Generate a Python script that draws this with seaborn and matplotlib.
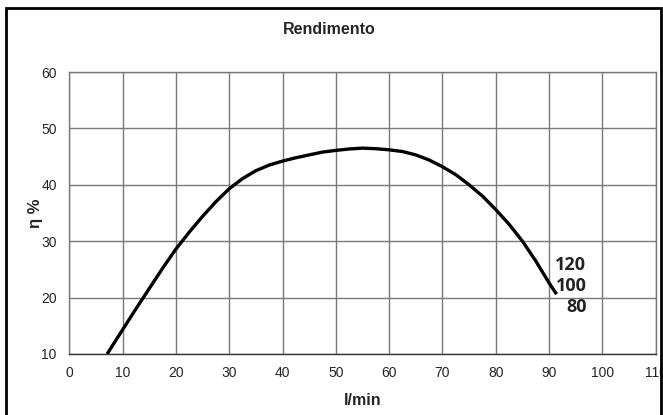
import matplotlib
matplotlib.use("Agg")
import matplotlib.pyplot as plt
import seaborn as sns
import pandas as pd

# ------------ DATA ------------
flow = [7.1, 10, 12.5, 15, 17.5, 20, 22.5, 25, 27.5, 30, 32.5, 35, 37.5, 40, 42.5, 45,
        47.5, 50, 52.5, 55, 57.5, 60, 62.5, 65, 67.5, 70, 72.5, 75, 77.5, 80, 82.5,
        85, 87.5, 90, 91.4]
eta = [10, 14.3, 18.0, 21.6, 25.2, 28.6, 31.6, 34.4, 37.0, 39.3, 41.1, 42.5, 43.5, 44.2,
       44.8, 45.3, 45.8, 46.1, 46.35, 46.5, 46.4, 46.2, 45.9, 45.3, 44.4, 43.2, 41.8,
       40.0, 38.0, 35.6, 33.0, 30.0, 26.5, 22.6, 20.6]

curve_labels = ["120", "100", "80"]
label_y = [25.8, 22.1, 18.3]

df = pd.DataFrame({"l/min": flow, "eta": eta})

# ------------ PLOT ------------
sns.set_style("white")
plt.rcParams["font.family"] = ["Liberation Sans", "DejaVu Sans"]

fig = plt.figure(figsize=(6.63, 4.15), dpi=100)
ax = fig.add_axes([0.1045, 0.147, 0.8845, 0.6795])

sns.lineplot(data=df, x="l/min", y="eta", ax=ax, color="black", linewidth=2.4,
             sort=False, estimator=None, solid_joinstyle="round", solid_capstyle="butt")

ax.set_xlim(0, 110)
ax.set_ylim(10, 60)
ax.set_xticks(range(0, 111, 10))
ax.set_yticks(range(10, 61, 10))
ax.grid(True, color="#7a7a7a", linewidth=1.0)
for s in ax.spines.values():
    s.set_color("#7a7a7a")
    s.set_linewidth(1.0)
ax.spines["bottom"].set_color("#333333")
ax.tick_params(axis="both", direction="out", length=4, width=1, color="#555555",
               labelsize=10, pad=5)

ax.set_xlabel("l/min", fontsize=11.5, fontweight="bold", labelpad=9)
ax.set_ylabel("η %", fontsize=12, fontweight="bold", labelpad=-1)
fig.text(0.497, 1 - 30 / 415, "Rendimento", ha="center", va="center",
         fontsize=11.5, fontweight="bold")

for lab, yv in zip(curve_labels, label_y):
    ax.text(97, yv, lab, ha="right", va="center", fontsize=13, fontweight="bold",
            family=["Open Sans", "DejaVu Sans"], color="#222222")

# outer frame around the whole chart
frame = plt.Rectangle((6 / 663, -0.02), 655 / 663, 1 - 8 / 415 + 0.02,
                      transform=fig.transFigure, fill=False, edgecolor="black",
                      linewidth=2)
fig.patches.append(frame)

plt.savefig("out.png", dpi=100)
plt.close()
